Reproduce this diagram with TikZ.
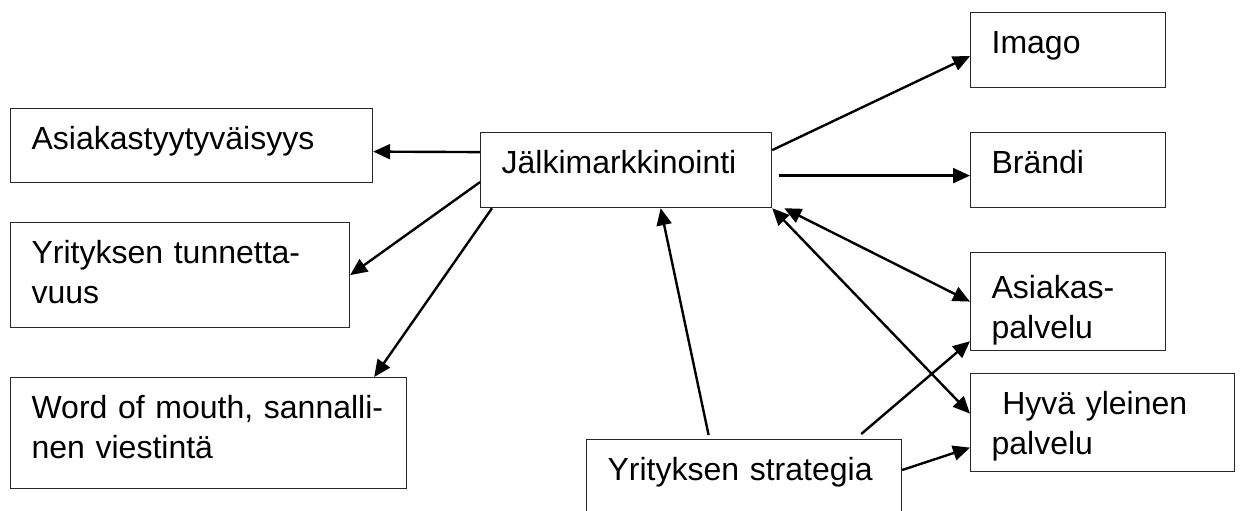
\documentclass[tikz,border=0pt]{standalone}
\usepackage{fontspec}
\setmainfont{Liberation Sans}
\usetikzlibrary{arrows.meta}

\begin{document}
\begin{tikzpicture}[x=0.5pt,y=-0.5pt,
    kehys/.style 2 args={draw=black!85,line width=0.6pt,anchor=north west,inner xsep=10.5pt,inner ysep=0pt,
        align=left,text width=#1,text height=20.5pt,text depth=#2,font=\fontsize{16}{20}\selectfont},
    nuoli/.style={line width=1.2pt,-{Triangle[length=8.5pt,width=7.5pt]}},
    kaksi/.style={line width=1.2pt,{Triangle[length=8.5pt,width=7.5pt]}-{Triangle[length=8.5pt,width=7.5pt]}}]
    \useasboundingbox (0,0) rectangle (1240,510);

    \node[kehys={160pt}{16.5pt}] (asia) at (10,108) {Asiakastyytyväisyys};
    \node[kehys={148.5pt}{32pt}] (tunn) at (10,222) {Yrityksen tunnetta-\\vuus};
    \node[kehys={177pt}{35pt}] (wom) at (10,377) {Word of mouth, sannalli-\\nen viestintä};
    \node[kehys={124.5pt}{17pt}] (jalki) at (480,132) {Jälkimarkkinointi};
    \node[kehys={76.5pt}{17pt}] (imago) at (970,12) {Imago};
    \node[kehys={76.5pt}{17pt}] (brandi) at (970,132) {Brändi};
    \node[kehys={76.5pt}{26pt},text height=23pt] (apalv) at (970,252) {Asiakas-\\palvelu};
    \node[kehys={111pt}{28.5pt}] (hyva) at (970,373) {\ Hyvä yleinen\\palvelu};
    \node[kehys={136.5pt}{49.5pt}] (strat) at (586,439) {Yrityksen strategia};

    \draw[nuoli] ([yshift=9pt]jalki.west) -- ([yshift=-3pt]asia.east);
    \draw[nuoli] ([yshift=-6pt]jalki.west) -- (tunn.east);
    \draw[nuoli] ([xshift=6pt]jalki.south west) -- ([xshift=-16.5pt]wom.north east);
    \draw[nuoli] ([yshift=10pt]jalki.east) -- ([yshift=-3pt]imago.west);
    \draw[nuoli] ([xshift=3.5pt,yshift=-2.75pt]jalki.east) -- ([yshift=-2.75pt]brandi.west);
    \draw[kaksi] ([xshift=6pt]jalki.south east) -- (apalv.west);
    \draw[kaksi] (jalki.south east) -- ([yshift=4.5pt]hyva.west);
    \draw[nuoli] ([xshift=-17.75pt,yshift=2pt]strat.north) -- ([xshift=17.25pt]jalki.south);
    \draw[nuoli] ([xshift=-20.5pt,yshift=2.5pt]strat.north east) -- ([yshift=5pt]apalv.south west);
    \draw[nuoli] ([yshift=-15.5pt]strat.north east) -- ([yshift=-12.5pt]hyva.west);
\end{tikzpicture}
\end{document}
